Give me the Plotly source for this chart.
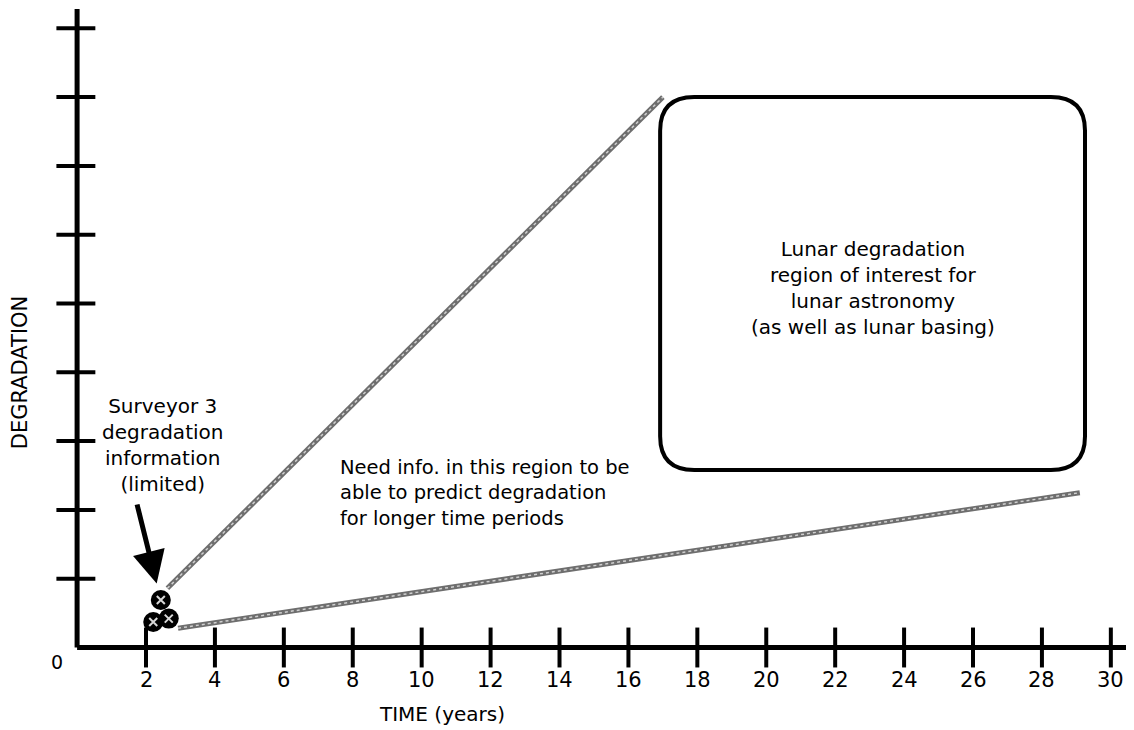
import plotly.graph_objects as go

# ---- data (chart units: x = years, y = degradation tick units) ----
x_tick_vals = [2, 4, 6, 8, 10, 12, 14, 16, 18, 20, 22, 24, 26, 28, 30]
x_tick_labels = [str(v) for v in x_tick_vals]
y_tick_vals = [1, 2, 3, 4, 5, 6, 7, 8, 9]

# Surveyor 3 data points (clustered near 2.5 years)
surveyor_x = [2.43, 2.21, 2.66]
surveyor_y = [0.69, 0.37, 0.42]

# Extrapolation envelope lines
upper_line_x = [2.62, 17.0]
upper_line_y = [0.86, 8.0]
lower_line_x = [2.93, 29.1]
lower_line_y = [0.28, 2.25]

# Region of interest box
region_x = [16.92, 29.25]
region_y = [2.58, 8.0]

# Axis extents
x_axis_end = 30.56
y_axis_end = 9.28

# Arrow (tail -> tip)
arrow_tail = (1.73, 2.10)
arrow_tip = (2.31, 0.93)

FONT = "DejaVu Sans"

fig = go.Figure()

# Axes lines
fig.add_trace(go.Scatter(x=[0, 0, None, 0, x_axis_end], y=[y_axis_end, 0, None, 0, 0],
                         mode="lines", line=dict(color="black", width=5),
                         hoverinfo="skip"))

# Ticks crossing the axes
tx, ty = [], []
for v in x_tick_vals:
    tx += [v, v, None]
    ty += [0.29, -0.29, None]
for v in y_tick_vals:
    tx += [-0.6, 0.53, None]
    ty += [v, v, None]
fig.add_trace(go.Scatter(x=tx, y=ty, mode="lines", line=dict(color="black", width=4),
                         hoverinfo="skip"))

# Envelope lines (gray hatched look)
for lx, ly in [(upper_line_x, upper_line_y), (lower_line_x, lower_line_y)]:
    fig.add_trace(go.Scatter(x=lx, y=ly, mode="lines",
                             line=dict(color="#6e6e6e", width=5), hoverinfo="skip"))
    fig.add_trace(go.Scatter(x=lx, y=ly, mode="lines",
                             line=dict(color="#d0d0d0", width=1.5, dash="dot"), hoverinfo="skip"))

# Surveyor points
fig.add_trace(go.Scatter(x=surveyor_x, y=surveyor_y, mode="markers",
                         marker=dict(size=20, color="black", line=dict(width=0)),
                         hoverinfo="skip"))
fig.add_trace(go.Scatter(x=surveyor_x, y=surveyor_y, mode="markers",
                         marker=dict(size=8, symbol="x-thin-open", color="#d8d8d8",
                                     line=dict(width=2, color="#d8d8d8")),
                         hoverinfo="skip"))

# Rounded region box
x0, x1 = region_x
y0, y1 = region_y
rx, ry = 0.99, 0.49
path = (f"M {x0+rx},{y1} L {x1-rx},{y1} Q {x1},{y1} {x1},{y1-ry} "
        f"L {x1},{y0+ry} Q {x1},{y0} {x1-rx},{y0} L {x0+rx},{y0} "
        f"Q {x0},{y0} {x0},{y0+ry} L {x0},{y1-ry} Q {x0},{y1} {x0+rx},{y1} Z")
fig.add_shape(type="path", path=path, xref="x", yref="y",
              line=dict(color="black", width=4))

annotations = []
# Tick labels
for v, lab in zip(x_tick_vals, x_tick_labels):
    annotations.append(dict(x=v, y=-0.47, text=lab, showarrow=False,
                            font=dict(family=FONT, size=21, color="black"),
                            xanchor="center", yanchor="middle"))
annotations.append(dict(x=-0.58, y=-0.21, text="0", showarrow=False,
                        font=dict(family=FONT, size=19, color="black"),
                        xanchor="center", yanchor="middle"))
# Axis titles
annotations.append(dict(x=10.59, y=-0.966, text="TIME (years)", showarrow=False,
                        font=dict(family=FONT, size=20, color="black"),
                        xanchor="center", yanchor="middle"))
annotations.append(dict(x=-1.657, y=4.0, text="DEGRADATION", showarrow=False,
                        textangle=-90,
                        font=dict(family=FONT, size=21, color="black"),
                        xanchor="center", yanchor="middle"))
# Box text
annotations.append(dict(x=(x0 + x1) / 2, y=5.22,
                        text="Lunar degradation<br>region of interest for<br>lunar astronomy<br>(as well as lunar basing)",
                        showarrow=False, align="center",
                        font=dict(family=FONT, size=20, color="black"),
                        xanchor="center", yanchor="middle"))
# Surveyor note
annotations.append(dict(x=2.49, y=2.94,
                        text="Surveyor 3<br>degradation<br>information<br>(limited)",
                        showarrow=False, align="center",
                        font=dict(family=FONT, size=20, color="black"),
                        xanchor="center", yanchor="middle"))
# Need info note
annotations.append(dict(x=7.58, y=2.25,
                        text="Need info. in this region to be<br>able to predict degradation<br>for longer time periods",
                        showarrow=False, align="left",
                        font=dict(family=FONT, size=19.5, color="black"),
                        xanchor="left", yanchor="middle"))
# Arrow
annotations.append(dict(x=arrow_tip[0], y=arrow_tip[1], ax=arrow_tail[0], ay=arrow_tail[1],
                        xref="x", yref="y", axref="x", ayref="y", text="",
                        showarrow=True, arrowhead=2, arrowwidth=5, arrowsize=1.3,
                        arrowcolor="black", standoff=0))

# The page body has an 8px margin, so the figure is sized to fit the window.
fig.update_layout(
    width=1126, height=722,
    margin=dict(l=0, r=0, t=0, b=0, pad=0),
    paper_bgcolor="white", plot_bgcolor="white",
    showlegend=False,
    xaxis=dict(visible=False, range=[-2.005, 30.672], fixedrange=True),
    yaxis=dict(visible=False, range=[-1.199, 9.295], fixedrange=True),
    annotations=annotations,
)

fig.write_html("out.html")
